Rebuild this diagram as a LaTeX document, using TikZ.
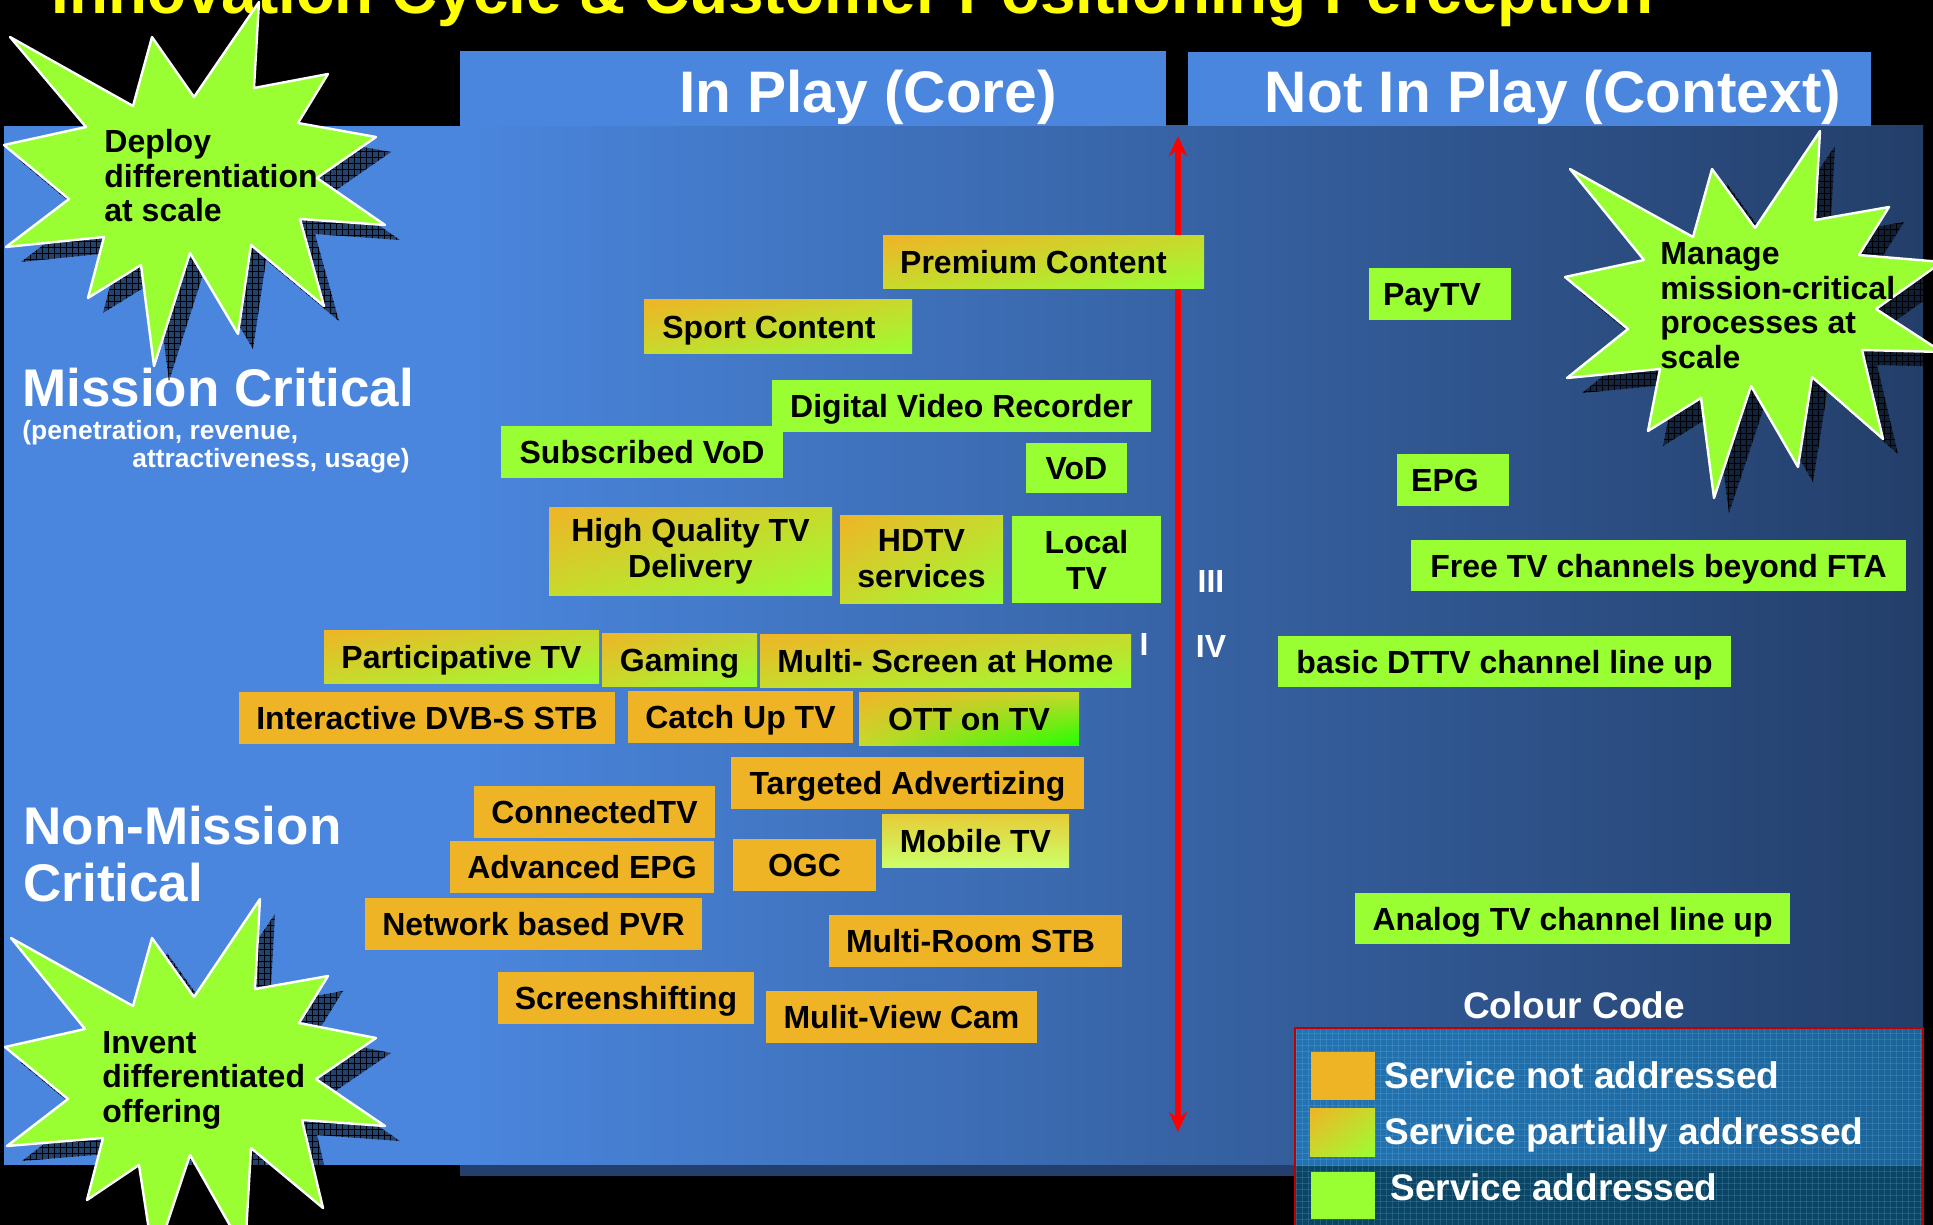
\documentclass[tikz,border=0pt]{standalone}
\usepackage{fontspec}
\setmainfont{Liberation Sans}
\usetikzlibrary{arrows.meta,patterns,shadings}

\definecolor{bgBlueL}{HTML}{4A86DD}
\definecolor{bgBlueD}{HTML}{233E69}
\definecolor{headBlue}{HTML}{4A86DD}
\definecolor{stripBlue}{HTML}{243F6B}
\definecolor{svcOrange}{HTML}{EFB426}
\definecolor{svcGreen}{HTML}{99FF33}
\definecolor{svcMid}{HTML}{C8DA2C}
\definecolor{ottGreen}{HTML}{22FF00}
\definecolor{mobTop}{HTML}{E6CC36}
\definecolor{mobBot}{HTML}{CCFF6A}
\definecolor{titleYellow}{HTML}{FFFF00}
\definecolor{legendBlue}{HTML}{148ACA}
\definecolor{legendRed}{HTML}{C00000}
\definecolor{starGreen}{HTML}{99FF33}

\newcommand\tsz[2]{\fontsize{#1}{#2}\selectfont\bfseries}

% service box: name, styles, x1, y1, x2, y2, text
\newcommand\svcbox[7]{%
  \pgfmathsetmacro\svcw{(#5-#3)/2}%
  \pgfmathsetmacro\svch{(#6-#4)/2}%
  \node[#2, minimum width=\svcw pt, minimum height=\svch pt] (#1) at ({(#3+#5)/2},{(#4+#6)/2}) {#7};%
}

% star outlines
\def\starDeploy{(259,2) -- (254,88) -- (328,74) -- (298,123) -- (376,137) -- (317,178) -- (385,225) -- (300,219) -- (324,306) -- (251,245) -- (238,334) -- (190,253) -- (154,366) -- (141,265) -- (88,298) -- (104,237) -- (6,247) -- (69,199) -- (4,145) -- (86,127) -- (10,37) -- (133,106) -- (152,37) -- (194,97) -- cycle}
\def\starManage{(1820,131) -- (1815,220) -- (1889,207) -- (1859,255) -- (1942,262) -- (1876,309) -- (1942,352) -- (1862,350) -- (1883,439) -- (1812,377) -- (1798,467) -- (1751,386) -- (1714,498) -- (1701,398) -- (1648,431) -- (1660,369) -- (1567,378) -- (1628,329) -- (1565,277) -- (1644,260) -- (1570,169) -- (1693,237) -- (1712,169) -- (1755,228) -- cycle}
\def\starInvent{(260,899) -- (255,989) -- (328,976) -- (299,1023) -- (376,1038) -- (316,1079) -- (385,1126) -- (302,1120) -- (323,1208) -- (251,1148) -- (245,1252) -- (190,1155) -- (154,1263) -- (139,1165) -- (87,1200) -- (103,1138) -- (7,1146) -- (68,1099) -- (5,1047) -- (85,1029) -- (11,938) -- (133,1006) -- (152,938) -- (194,997) -- cycle}

\tikzset{
  svcbase/.style={inner sep=0pt, text=black, font=\tsz{16pt}{18pt}},
  svc/.style={svcbase, text height=11.5pt, text depth=0pt},
  svctwo/.style={svcbase, align=center},
  notadd/.style={fill=svcOrange},
  addr/.style={fill=svcGreen},
  partadd/.style={shade, upper left=svcOrange, lower right=svcGreen, upper right=svcMid, lower left=svcMid},
  ottadd/.style={shade, upper left=svcOrange, lower right=ottGreen, upper right=svcMid, lower left=svcMid},
  mobadd/.style={shade, top color=mobTop, bottom color=mobBot},
  starbody/.style={fill=starGreen, draw=white, line width=1.2pt, line join=round},
  startext/.style={inner sep=0pt, text=black, font=\tsz{16pt}{17.25pt}, anchor=base west},
  heading/.style={inner sep=0pt, text=white, font=\tsz{29.3pt}{32pt}, anchor=base},
  sidelabel/.style={inner sep=0pt, text=white, font=\tsz{26.5pt}{28.5pt}, anchor=base west},
  sidenote/.style={inner sep=0pt, text=white, font=\tsz{13.2pt}{14pt}, anchor=base west},
  roman/.style={inner sep=0pt, text=white, font=\tsz{16pt}{18pt}, anchor=base},
  legtext/.style={inner sep=0pt, text=white, font=\tsz{18.5pt}{20pt}, anchor=base west},
}

\begin{document}
\begin{tikzpicture}[x=0.5pt,y=-0.5pt]
\useasboundingbox (0,0) rectangle (1933,1225);
\clip (0,0) rectangle (1933,1225);
\fill[black] (0,0) rectangle (1933,1225);

% main panel
\fill[bgBlueL] (4,126) rectangle (471,1165);
\shade[left color=bgBlueL, right color=bgBlueD] (470,126) rectangle (1923,1165);
\fill[stripBlue] (460,1165) rectangle (1295,1176);

% column headers
\fill[headBlue] (460,51) rectangle (1166,126);
\fill[headBlue] (1188,52) rectangle (1871,126);
\node[heading] (corehead) at (868,113) {In Play (Core)};
\node[heading] (ctxhead) at (1553,113) {Not In Play (Context)};

% title
\node[inner sep=0pt, anchor=base west, text=titleYellow, font=\tsz{31.9pt}{34pt}] (title) at (51,14)
  {Innovation Cycle \& Customer Positioning Perception};

% vertical axis
\coordinate (axtop) at (1178,136);
\coordinate (axbot) at (1178,1132);
\draw[red, line width=2.8pt, {Stealth[length=10pt,width=9pt]}-{Stealth[length=10pt,width=9pt]}] (axtop) -- (axbot);

\node[roman] (q3) at (1211,592) {III};
\node[roman] (q4) at (1211,657) {IV};
\node[roman] (q1) at (1144,655) {I};

% services
\svcbox{prem}{svc,partadd}{883}{236}{1204}{289}{Premium Content\hspace*{10pt}}
\svcbox{sport}{svc,partadd}{644}{300}{912}{353}{Sport Content\hspace*{9pt}}
\svcbox{dvr}{svc,addr}{772}{380}{1151}{432}{Digital Video Recorder}
\svcbox{svod}{svc,addr}{501}{426}{783}{478}{Subscribed VoD}
\svcbox{vod}{svc,addr}{1026}{443}{1127}{493}{VoD}
\svcbox{hqtv}{svctwo,partadd}{549}{507}{832}{595}{High Quality TV\\Delivery}
\svcbox{hdtv}{svctwo,partadd}{840}{515}{1003}{603}{HDTV\\services}
\svcbox{local}{svctwo,addr}{1012}{516}{1161}{603}{Local\\TV}
\svcbox{partv}{svc,partadd}{324}{630}{599}{683}{Participative TV}
\svcbox{gaming}{svc,partadd}{602}{633}{757}{686}{Gaming}
\svcbox{mscreen}{svc,partadd}{760}{634}{1131}{687}{Multi- Screen at Home}
\svcbox{idvb}{svc,notadd}{239}{692}{615}{744}{Interactive DVB-S STB}
\svcbox{catchup}{svc,notadd}{628}{691}{853}{743}{Catch Up TV}
\svcbox{ott}{svc,ottadd}{859}{692}{1079}{745}{OTT on TV}
\svcbox{tadv}{svc,notadd}{731}{757}{1084}{809}{Targeted Advertizing}
\svcbox{ctv}{svc,notadd}{474}{786}{715}{838}{ConnectedTV}
\svcbox{mobile}{svc,mobadd}{882}{814}{1069}{867}{Mobile TV}
\svcbox{aepg}{svc,notadd}{450}{841}{714}{893}{Advanced EPG}
\svcbox{ogc}{svc,notadd}{733}{839}{876}{891}{OGC}
\svcbox{npvr}{svc,notadd}{365}{898}{702}{950}{Network based PVR}
\svcbox{mroom}{svc,notadd}{829}{915}{1122}{967}{Multi-Room STB\hspace*{5pt}}
\svcbox{sshift}{svc,notadd}{498}{972}{754}{1024}{Screenshifting}
\svcbox{mview}{svc,notadd}{766}{991}{1037}{1043}{Mulit-View Cam}
\svcbox{paytv}{svc,addr}{1369}{268}{1511}{320}{PayTV\hspace*{8pt}}
\svcbox{epg}{svc,addr}{1397}{454}{1509}{506}{EPG\hspace*{8pt}}
\svcbox{freetv}{svc,addr}{1411}{540}{1906}{591}{Free TV channels beyond FTA}
\svcbox{dttv}{svc,addr}{1278}{636}{1731}{687}{basic DTTV channel line up}
\svcbox{analog}{svc,addr}{1355}{893}{1790}{944}{Analog TV channel line up}

% colour code legend
\node[inner sep=0pt, text=white, font=\tsz{18.5pt}{20pt}, anchor=base] (legtitle) at (1574,1018) {Colour Code};
\fill[legendBlue, opacity=0.5] (1295,1028) rectangle (1923,1240);
\fill[pattern=grid, pattern color=legendBlue!50!white, opacity=0.18] (1295,1028) rectangle (1923,1240);
\draw[legendRed, line width=0.8pt] (1295,1240) -- (1295,1028) -- (1923,1028) -- (1923,1240);
\svcbox{lgA}{svc,notadd}{1311}{1052}{1375}{1100}{}
\svcbox{lgB}{svc,partadd}{1310}{1108}{1375}{1156}{}
\svcbox{lgC}{svc,addr}{1311}{1172}{1375}{1219}{}
\node[legtext] (lgAt) at (1384,1088) {Service not addressed};
\node[legtext] (lgBt) at (1384,1144) {Service partially addressed};
\node[legtext] (lgCt) at (1390,1200) {Service addressed};

% row labels
\node[sidelabel] (mc) at (22,406) {Mission Critical};
\node[sidenote] (mcnote) at (22,439)
  {\parbox[t]{250pt}{(penetration, revenue,\\\hspace*{55pt}attractiveness, usage)}};
\node[sidelabel] (nmc) at (23,844) {\parbox[t]{250pt}{Non-Mission\\Critical}};

% stars with hatched shadows
\begin{scope}[shift={(15,15)}]
  \fill[black, opacity=0.5] \starDeploy;
  \fill[pattern=grid, pattern color=black] \starDeploy;
  \fill[black, opacity=0.5] \starManage;
  \fill[pattern=grid, pattern color=black] \starManage;
  \fill[black, opacity=0.5] \starInvent;
  \fill[pattern=grid, pattern color=black] \starInvent;
\end{scope}
\path[starbody] \starDeploy;
\path[starbody] \starManage;
\path[starbody] \starInvent;

\node[startext] (deploy) at (104,153) {\parbox[t]{160pt}{Deploy\\differentiation\\at scale}};
\node[startext] (manage) at (1660,265) {\parbox[t]{160pt}{Manage\\mission-critical\\processes at\\scale}};
\node[startext] (invent) at (102,1053) {\parbox[t]{160pt}{Invent\\differentiated\\offering}};
\end{tikzpicture}
\end{document}
